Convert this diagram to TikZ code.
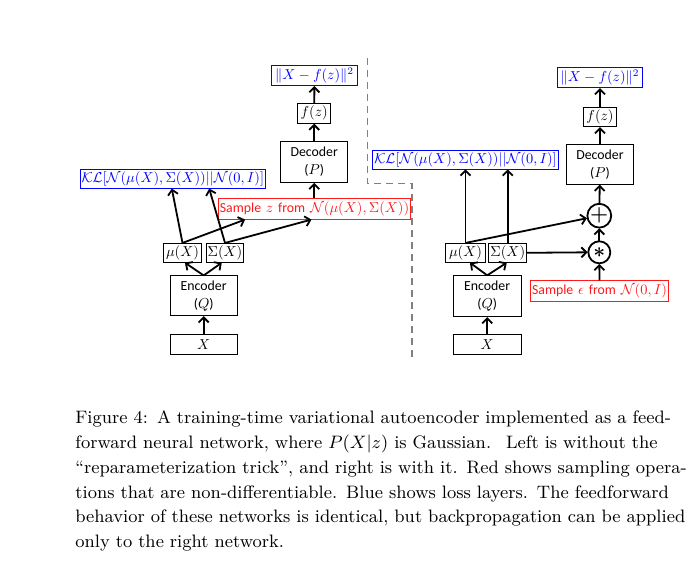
\documentclass[tikz,border=0pt]{standalone}
\usepackage{amsmath}
\usepackage{fontspec}
\setsansfont{Carlito}
\usetikzlibrary{arrows.meta}

\newcommand{\txt}[1]{{\sffamily\fontsize{9.6}{12.5}\selectfont #1}}
\newcommand{\capline}[1]{\par\noindent\hbox to \hsize{#1}\par}

\begin{document}
\begin{tikzpicture}[x=0.5pt, y=-0.5pt,
  net/.style={draw, line width=0.5pt, inner sep=1pt, align=center, scale=0.72,
    font=\fontsize{10}{12.5}\selectfont},
  lossbox/.style={net, draw=blue, text=blue},
  samplebox/.style={net, draw=red!90!white, text=red!90!white},
  opnode/.style={draw, circle, line width=0.9pt, minimum size=15.3pt, inner sep=0pt, scale=0.72},
  flow/.style={-{Straight Barb[length=2.5pt,width=5pt]}, line width=0.9pt},
  divider/.style={gray, dash pattern=on 3.5pt off 2.5pt, line width=0.6pt}]
\useasboundingbox (0,0) rectangle (690,563);

% Left network: sampling in the middle
\node[net, minimum width=46.5pt, minimum height=13.9pt] (lx) at (203.7,344.3) {$X$};
\node[net, minimum width=46.5pt, minimum height=27.8pt] (lenc) at (203.7,295.8) {\txt{Encoder}\\\txt{(}$Q$\txt{)}};
\node[net, minimum width=26.4pt, minimum height=13.2pt] (lmu) at (182.5,252.8) {$\mu(X)$};
\node[net, minimum width=25.7pt, minimum height=13.2pt] (lsig) at (225,252.8) {$\Sigma(X)$};
\node[lossbox, minimum width=126.4pt, minimum height=13.2pt] (lkl) at (172.8,178.7)
  {$\mathcal{KL}[\mathcal{N}(\mu(X),\Sigma(X))||\mathcal{N}(0,I)]$};
\node[samplebox, minimum width=125.7pt, minimum height=14.6pt] (lsample) at (314.5,208.7)
  {\txt{Sample} $z$ \txt{from} $\mathcal{N}(\mu(X),\Sigma(X))$};
\node[net, minimum width=46.5pt, minimum height=28.5pt] (ldec) at (314.2,162) {\txt{Decoder}\\\txt{(}$P$\txt{)}};
\node[net, minimum width=22.9pt, minimum height=13.9pt] (lfz) at (314.2,113.3) {$f(z)$};
\node[lossbox, minimum width=59.7pt, minimum height=13.9pt] (lnorm) at (314.5,75.7) {$\|X-f(z)\|^2$};

\draw[flow] (lx) -- (lenc);
\draw[flow] (lenc.north) -- ([xshift=1.2pt]lmu.south);
\draw[flow] (lenc.north) -- ([xshift=-1.6pt]lsig.south);
\draw[flow] (lmu.north) -- ([xshift=-0.5pt]lkl.south);
\draw[flow] (lsig.north) -- ([xshift=18.2pt]lkl.south);
\draw[flow] (lmu.north) -- ([xshift=-34.7pt]lsample.south);
\draw[flow] (lsig.north) -- ([xshift=-1.5pt]lsample.south);
\draw[flow] (lsample.north -| ldec) -- (ldec.south);
\draw[flow] (ldec) -- (lfz);
\draw[flow] (lfz) -- (lnorm);

% Separator
\coordinate (sepa) at (367.5,58);
\coordinate (sepb) at (367.5,183.5);
\coordinate (sepc) at (412,183.5);
\coordinate (sepd) at (412,358);
\draw[divider] (sepa) -- (sepb) -- (sepc) -- (sepd);

% Right network: reparameterization trick
\node[net, minimum width=47.2pt, minimum height=13.9pt] (rx) at (487.2,344.3) {$X$};
\node[net, minimum width=47.2pt, minimum height=28.5pt] (renc) at (487.2,296.2) {\txt{Encoder}\\\txt{(}$Q$\txt{)}};
\node[net, minimum width=27.1pt, minimum height=13.2pt] (rmu) at (465.5,252.8) {$\mu(X)$};
\node[net, minimum width=26.4pt, minimum height=13.2pt] (rsig) at (507.8,252.8) {$\Sigma(X)$};
\node[lossbox, minimum width=125.7pt, minimum height=13.2pt] (rkl) at (465.5,159.5)
  {$\mathcal{KL}[\mathcal{N}(\mu(X),\Sigma(X))||\mathcal{N}(0,I)]$};
\node[samplebox, minimum width=93pt, minimum height=14.6pt] (rsample) at (599.5,291.3)
  {\txt{Sample} $\epsilon$ \txt{from} $\mathcal{N}(0,I)$};
\node[opnode] (rstar) at (599.3,252.3) {\fontsize{15}{15}\selectfont$\boldsymbol{\ast}$};
\node[opnode] (rplus) at (599.3,215.7) {\fontsize{14}{14}\selectfont$\boldsymbol{+}$};
\node[net, minimum width=47.2pt, minimum height=27.8pt] (rdec) at (600,164.3) {\txt{Decoder}\\\txt{(}$P$\txt{)}};
\node[net, minimum width=22.9pt, minimum height=13.2pt] (rfz) at (600,117.2) {$f(z)$};
\node[lossbox, minimum width=59pt, minimum height=13.9pt] (rnorm) at (600,77.7) {$\|X-f(z)\|^2$};

\draw[flow] (rx) -- (renc);
\draw[flow] (renc.north) -- ([xshift=2.2pt]rmu.south);
\draw[flow] (renc.north) -- ([xshift=-0.5pt]rsig.south);
\draw[flow] (rmu.north) -- (rmu.north |- rkl.south);
\draw[flow] (rsig.north) -- (rsig.north |- rkl.south);
\draw[flow] (rmu.north) -- (rplus);
\draw[flow] (rsig.east) -- (rstar.west);
\draw[flow] (rsample) -- (rstar);
\draw[flow] (rstar) -- (rplus);
\draw[flow] (rplus) -- (rdec);
\draw[flow] (rdec) -- (rfz);
\draw[flow] (rfz) -- (rnorm);

% Caption
\node[anchor=north west, inner sep=0pt, text width=299.5pt,
  font=\fontsize{9}{12.45}\selectfont] (caption) at (75,398) {%
\capline{Figure 4: A training-time variational autoencoder implemented as a feed-}%
\capline{forward neural network, where $P(X|z)$ is Gaussian. \ Left is without the}%
\capline{``reparameterization trick'', and right is with it. Red shows sampling opera-}%
\capline{tions that are non-differentiable. Blue shows loss layers. The feedforward}%
\capline{behavior of these networks is identical, but backpropagation can be applied}%
\par\noindent only to the right network.};
\end{tikzpicture}
\end{document}
